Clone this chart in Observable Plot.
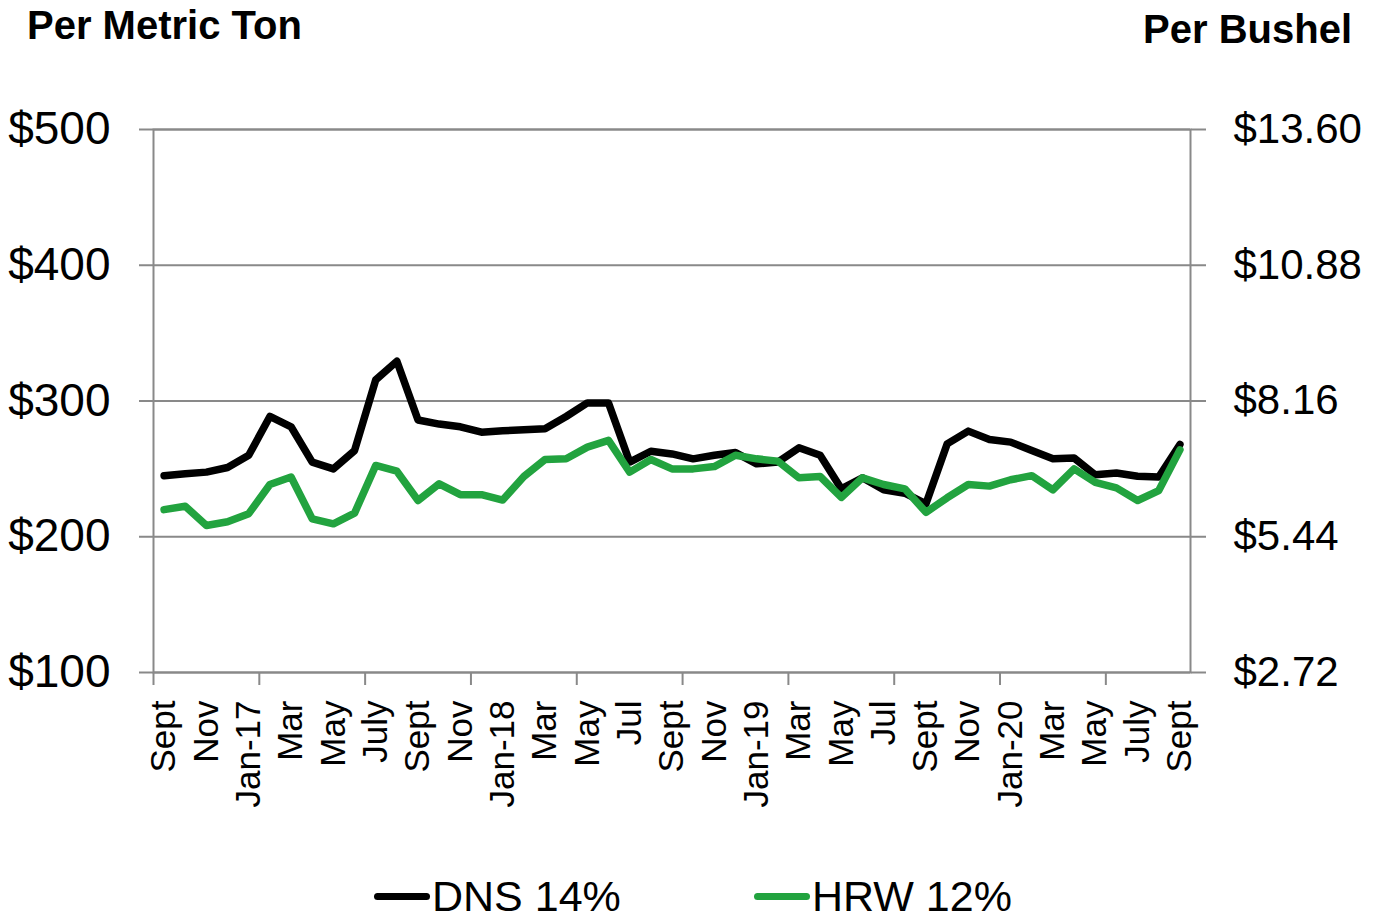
<!DOCTYPE html>
<html><head><meta charset="utf-8">
<script src="https://cdn.jsdelivr.net/npm/d3@7"></script>
<script src="https://cdn.jsdelivr.net/npm/@observablehq/plot@0.6"></script>
<style>
body{margin:0;background:#fff;}
#wrap{position:relative;width:1374px;height:922px;overflow:hidden;font-family:"Liberation Sans",Arial,sans-serif;color:#000;}
#chart{position:absolute;left:0;top:0;}
.title{position:absolute;font-weight:bold;font-size:40px;line-height:1;white-space:nowrap;}
.leg{position:absolute;top:875px;display:flex;align-items:center;font-size:43px;line-height:1;white-space:nowrap;}
.sw{display:inline-block;width:56px;height:7px;border-radius:4px;margin-right:2px;}
</style></head>
<body><div id="wrap">
<div id="chart"></div>
<div class="title" style="left:27px;top:5px">Per Metric Ton</div>
<div class="title" style="right:22px;top:9px">Per Bushel</div>
<div class="leg" style="left:374px"><span class="sw" style="background:#000"></span>DNS 14%</div>
<div class="leg" style="left:754px"><span class="sw" style="background:#22a33f"></span>HRW 12%</div>
</div>
<script>
// Monthly, Sept 2016 .. Sept 2020 (49 months)
const months = ["2016-09","2016-10","2016-11","2016-12","2017-01","2017-02","2017-03","2017-04","2017-05","2017-06","2017-07","2017-08","2017-09","2017-10","2017-11","2017-12","2018-01","2018-02","2018-03","2018-04","2018-05","2018-06","2018-07","2018-08","2018-09","2018-10","2018-11","2018-12","2019-01","2019-02","2019-03","2019-04","2019-05","2019-06","2019-07","2019-08","2019-09","2019-10","2019-11","2019-12","2020-01","2020-02","2020-03","2020-04","2020-05","2020-06","2020-07","2020-08","2020-09"];
const dns = [245,246.4,247.6,251,260,288.6,281,255,250,263.5,315.6,329.3,286,283,281,277,278,278.8,279.5,288.6,298.6,298.6,255,263,261,257.4,260,262,253.7,255,265.5,260,235.3,243.4,234.6,232.1,224.3,268.4,277.8,271.6,269.7,263.5,257.4,258,245.6,247,244.6,244,268];
const hrw = [220,222.5,208.3,211,217,238.5,244,213.2,209.5,217.4,252.5,248.3,226.7,239,231,231,227,244.4,256.9,257.4,266,271,247.6,256.9,250,250,251.7,260,257.4,255.7,243.4,244.4,229,243.4,238.5,235.3,218,228.7,238.5,237.3,242,245,234.6,250,240,236,226.7,234,264];
const xLabels = ["Sept","Nov","Jan-17","Mar","May","July","Sept","Nov","Jan-18","Mar","May","Jul","Sept","Nov","Jan-19","Mar","May","Jul","Sept","Nov","Jan-20","Mar","May","July","Sept"];
const yTicks = [100,200,300,400,500];
const leftTickLabels = ["$100","$200","$300","$400","$500"];
const rightTickLabels = ["$2.72","$5.44","$8.16","$10.88","$13.60"];
const seriesNames = ["DNS 14%","HRW 12%"];
const seriesColors = ["#000000","#22a33f"];

const labelIdx = xLabels.map((_, k) => k * 2);
const boundaryTicks = d3.range(-0.5, months.length - 1, 5);
const rows = [];
months.forEach((m, i) => { rows.push({i, m, s: seriesNames[0], v: dns[i]}); });
months.forEach((m, i) => { rows.push({i, m, s: seriesNames[1], v: hrw[i]}); });
const grid = "#898989";

const chart = Plot.plot({
  width: 1374, height: 922,
  marginLeft: 153, marginRight: 184, marginTop: 129, marginBottom: 250,
  x: {domain: [-0.5, months.length - 0.5], axis: null},
  y: {domain: [100, 500], axis: null},
  color: {domain: seriesNames, range: seriesColors},
  style: {fontFamily: '"Liberation Sans", Arial, sans-serif', background: "transparent", overflow: "visible", color: "#000"},
  marks: [
    Plot.ruleY(yTicks, {stroke: grid, strokeWidth: 2}),
    Plot.frame({stroke: grid, strokeWidth: 2}),
    Plot.axisY({anchor: "left", ticks: yTicks, tickSize: 14, tickPadding: 29, stroke: grid, strokeWidth: 2, fill: "#000", fontSize: 46, tickFormat: d => leftTickLabels[yTicks.indexOf(d)], label: null}),
    Plot.axisY({anchor: "right", ticks: yTicks, tickSize: 15, tickPadding: 28, stroke: grid, strokeWidth: 2, fill: "#000", fontSize: 42, tickFormat: d => rightTickLabels[yTicks.indexOf(d)], label: null}),
    Plot.axisX({anchor: "bottom", ticks: boundaryTicks, tickSize: 13, stroke: grid, strokeWidth: 2, fill: "none", tickFormat: () => "", label: null}),
    Plot.axisX({anchor: "bottom", ticks: labelIdx, tickSize: 0, tickPadding: 28, tickRotate: -90, fill: "#000", fontSize: 35, tickFormat: d => xLabels[labelIdx.indexOf(d)], label: null}),
    Plot.line(rows, {x: "i", y: "v", z: "s", stroke: "s", strokeWidth: 7.5, strokeLinejoin: "round", strokeLinecap: "round"})
  ]
});
document.getElementById("chart").appendChild(chart);
</script>
</body></html>
